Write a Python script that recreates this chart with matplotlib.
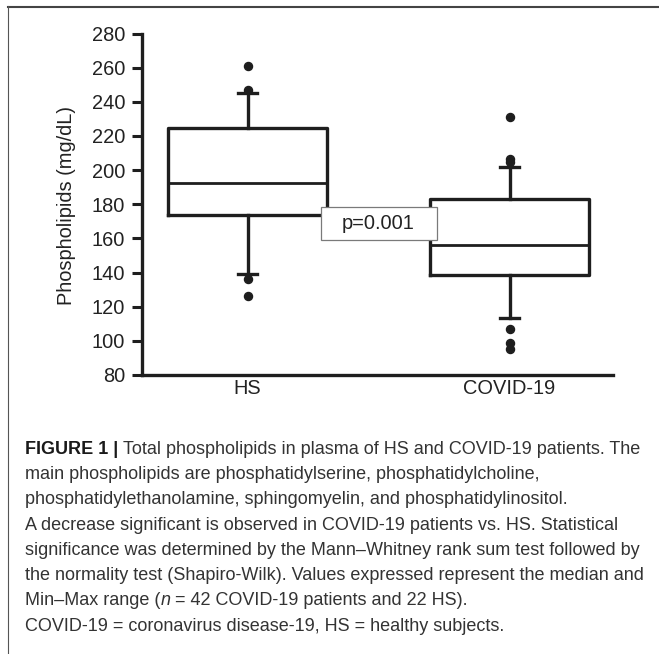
import matplotlib
matplotlib.use("Agg")
import matplotlib.pyplot as plt
from matplotlib.lines import Line2D
from matplotlib.patches import Rectangle
from matplotlib.transforms import ScaledTranslation

# ---------------- data ----------------
groups = ["HS", "COVID-19"]
q1 = [173.5, 138.6]
medians = [192.7, 155.9]
q3 = [224.6, 183.3]
whisker_low = [139.3, 113.3]
whisker_high = [245.0, 202.0]
outliers_hs = [261.0, 247.0, 136.2, 126.4]
outliers_covid = [231.0, 206.5, 204.5, 107.0, 98.5, 95.5]
y_ticks = [80, 100, 120, 140, 160, 180, 200, 220, 240, 260, 280]
p_label = "p=0.001"
y_label = "Phospholipids (mg/dL)"

caption_lines = [
    [("FIGURE 1 |", "bold", "normal"),
     ("Total phospholipids in plasma of HS and COVID-19 patients. The", "normal", "normal")],
    [("main phospholipids are phosphatidylserine, phosphatidylcholine,", "normal", "normal")],
    [("phosphatidylethanolamine, sphingomyelin, and phosphatidylinositol.", "normal", "normal")],
    [("A decrease significant is observed in COVID-19 patients vs. HS. Statistical", "normal", "normal")],
    [("significance was determined by the Mann\u2013Whitney rank sum test followed by", "normal", "normal")],
    [("the normality test (Shapiro-Wilk). Values expressed represent the median and", "normal", "normal")],
    [("Min\u2013Max range (", "normal", "normal"), ("n", "normal", "italic"),
     ("\u00a0= 42 COVID-19 patients and 22 HS).", "normal", "normal")],
    [("COVID-19 = coronavirus disease-19, HS = healthy subjects.", "normal", "normal")],
]

# ---------------- figure ----------------
W, H = 659, 654
plt.rcParams["font.family"] = ["Liberation Sans", "DejaVu Sans"]
fig = plt.figure(figsize=(W / 100, H / 100), dpi=100)
fig.patch.set_facecolor("white")

def fx(px):
    return px / W

def fy(py):
    return 1 - py / H

# frame lines (top and left)
fig.add_artist(Line2D([fx(8), 1.0], [fy(6.5), fy(6.5)], lw=1.5, color="#444444"))
fig.add_artist(Line2D([fx(8), fx(8)], [fy(6), 0.0], lw=0.8, color="#555555"))

ink = "#1e1e1e"
ax_top, ax_bot, ax_left, ax_right = 33.5, 375, 142, 613
ax = fig.add_axes([fx(ax_left), fy(ax_bot), (ax_right - ax_left) / W, (ax_bot - ax_top) / H])

stats = []
for i, g in enumerate(groups):
    stats.append(dict(label=g, q1=q1[i], med=medians[i], q3=q3[i],
                      whislo=whisker_low[i], whishi=whisker_high[i],
                      fliers=[outliers_hs, outliers_covid][i]))

lw = 2.4
ax.bxp(stats, positions=[1, 2], widths=0.605, capwidths=0.073,
       boxprops=dict(color=ink, lw=lw),
       medianprops=dict(color=ink, lw=2.0),
       whiskerprops=dict(color=ink, lw=lw),
       capprops=dict(color=ink, lw=lw),
       flierprops=dict(marker="o", markerfacecolor=ink, markeredgecolor=ink, markersize=5.8))

ax.set_xlim(0.5973, 2.395)
ax.set_ylim(80, 280)
ax.set_yticks(y_ticks)
ax.set_xticks([1, 2], groups)
for s in ("top", "right"):
    ax.spines[s].set_visible(False)
for s in ("left", "bottom"):
    ax.spines[s].set_linewidth(lw)
    ax.spines[s].set_color(ink)
ax.tick_params(axis="y", direction="out", length=7.5, width=2.2, color=ink,
               labelsize=14.4, labelcolor="#222222", pad=4.5)
ax.tick_params(axis="x", length=0, labelsize=14.4, labelcolor="#222222", pad=3)

# p-value box
px_, py_ = 1.5, 168.8
off = ScaledTranslation(px_, py_, ax.transData)
rect = Rectangle((-0.58, -0.165), 1.16, 0.33, transform=fig.dpi_scale_trans + off,
                 facecolor="white", edgecolor="#7a7a7a", lw=0.9, zorder=5)
ax.add_artist(rect)
ax.text(px_, py_, p_label, ha="center", va="center", fontsize=14.4, color="#222222", zorder=6)

# y label
fig.text(fx(66.5), fy(205), y_label, rotation=90, ha="center", va="center",
         fontsize=14.4, color="#222222")

# ---------------- caption ----------------
renderer = fig.canvas.get_renderer()

def seg_width(txt, size, weight, style):
    t = fig.text(0, 0, txt, fontsize=size, weight=weight, style=style)
    w = t.get_window_extent(renderer).width
    t.remove()
    return w

def space_width(size):
    return seg_width("x x", size, "normal", "normal") - seg_width("xx", size, "normal", "normal")

def line_width(segs, size):
    total = 0
    for j, (txt, wgt, sty) in enumerate(segs):
        total += seg_width(txt, size, wgt, sty)
    return total

base = 12.8
# fit first line (with its one inter-segment space) to target width
target = 615
w0 = line_width(caption_lines[0], base) + space_width(base)
cap_size = base * target / w0

x0 = 25
base0 = 454
pitch = 25.24
for i, segs in enumerate(caption_lines):
    x = x0
    yb = base0 + pitch * i
    for j, (txt, wgt, sty) in enumerate(segs):
        col = "#1a1a1a" if wgt == "bold" else "#333333"
        t = fig.text(fx(x), fy(yb), txt, fontsize=cap_size, weight=wgt, style=sty,
                     color=col, ha="left", va="baseline")
        x += t.get_window_extent(renderer).width
        if i == 0 and j == 0:
            x += space_width(cap_size)

fig.savefig("out.png", dpi=100, facecolor="white")
